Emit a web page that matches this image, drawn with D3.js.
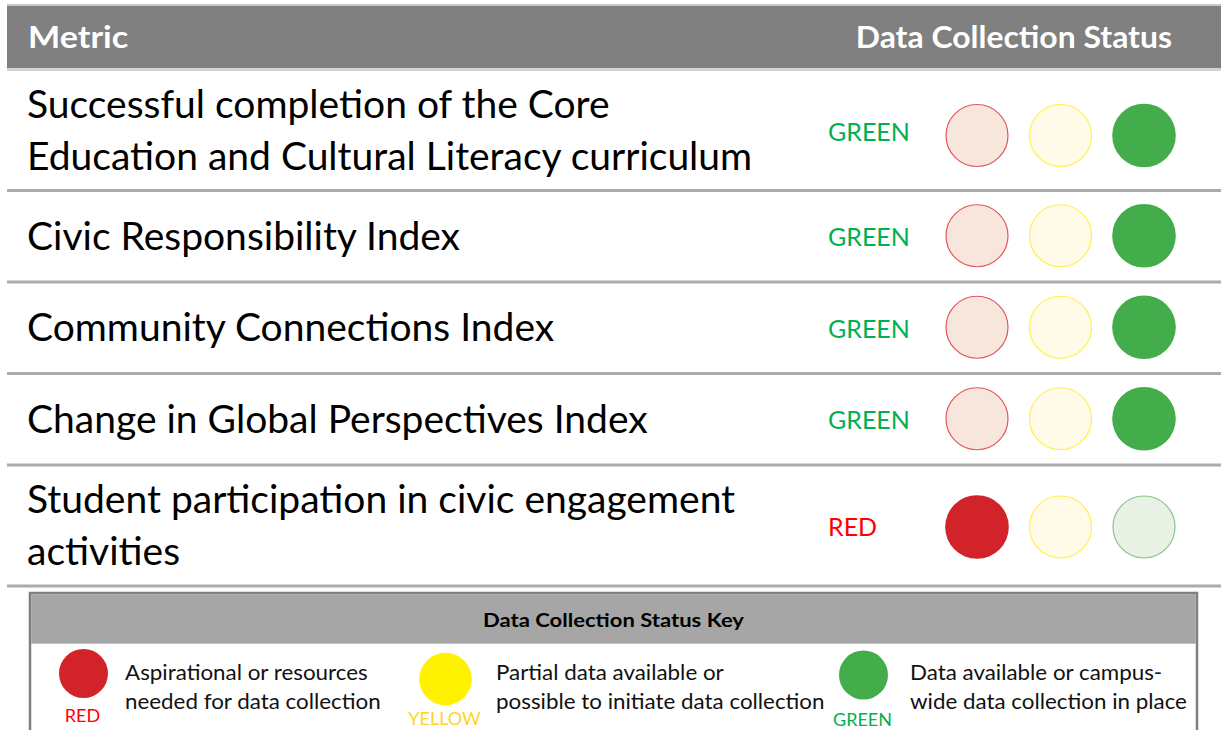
<!DOCTYPE html>
<html><head><meta charset="utf-8">
<script src="https://cdn.jsdelivr.net/npm/d3@7"></script>
<style>html,body{margin:0;padding:0;background:#fff;}svg{display:block;}</style>
</head><body>
<svg id="c" width="1221" height="730"></svg>
<script>
const metrics = [
  ["Successful completion of the Core", "Education and Cultural Literacy curriculum"],
  ["Civic Responsibility Index"],
  ["Community Connections Index"],
  ["Change in Global Perspectives Index"],
  ["Student participation in civic engagement", "activities"]
];
const statuses = ["GREEN", "GREEN", "GREEN", "GREEN", "RED"];
const levels = ["RED", "YELLOW", "GREEN"];
const keyTitle = "Data Collection Status Key";
const keyText = [
  ["Aspirational or resources", "needed for data collection"],
  ["Partial data available or", "possible to initiate data collection"],
  ["Data available or campus-", "wide data collection in place"]
];
const headers = ["Metric", "Data Collection Status"];

const FONT = "Lato, Carlito, Calibri, 'Open Sans', sans-serif";
const solid = {RED: "#d2232a", YELLOW: "#fff200", GREEN: "#43ad4b"};
const paleFill = {RED: "#f8e5dc", YELLOW: "#fffbe8", GREEN: "#e9f1e4"};
const paleStroke = {RED: "#e0575c", YELLOW: "#fff04a", GREEN: "#86c68a"};
const labelColor = {RED: "#ff0000", YELLOW: "#ffd42a", GREEN: "#00b050"};

const svg = d3.select("#c");

function txt(parent, x, y, str, o) {
  const s = o.stretch || 1;
  return parent.append("text")
    .attr("transform", `translate(${x},${y}) scale(${s},1)`)
    .attr("text-anchor", o.anchor || "start")
    .attr("font-family", FONT)
    .attr("font-weight", o.bold ? "bold" : "normal")
    .attr("font-size", o.size)
    .attr("fill", o.fill || "#000")
    .text(str);
}

// header
svg.append("rect").attr("x", 7).attr("y", 4).attr("width", 1214).attr("height", 2).attr("fill", "#c8c8c8");
svg.append("rect").attr("x", 7).attr("y", 6).attr("width", 1214).attr("height", 62).attr("fill", "#808080");
svg.append("rect").attr("x", 7).attr("y", 68).attr("width", 1214).attr("height", 3).attr("fill", "#d4d4d4");
txt(svg, 28, 48, headers[0], {size: 31, bold: true, fill: "#fff", stretch: 1.1});
txt(svg, 1172, 48, headers[1], {size: 31, bold: true, fill: "#fff", stretch: 1.03, anchor: "end"});

// rows: heights from number of lines
const rowH = metrics.map(m => m.length === 2 ? 121 : 91.5);
const rowTop = [];
let acc = 70;
rowH.forEach(h => { rowTop.push(acc); acc += h; });
const xc = d3.scalePoint().domain(levels).range([977, 1144]);
const nudge = [6, 0, 0, 0, 2];

metrics.forEach((lines, i) => {
  const top = rowTop[i], h = rowH[i], mid = top + h / 2;
  const g = svg.append("g");
  g.append("rect").attr("x", 7).attr("y", top + h - 2).attr("width", 1214).attr("height", 3).attr("fill", "#ababab");
  const lh = 52;
  lines.forEach((t, j) => {
    txt(g, 27, mid + 13 + (j - (lines.length - 1) / 2) * lh, t, {size: 39});
  });
  txt(g, 828, mid + 9.5 + (i === 0 ? 1 : 0), statuses[i], {size: 25, fill: labelColor[statuses[i]]});
  g.selectAll("circle").data(levels).join("circle")
    .attr("cx", d => xc(d)).attr("cy", mid - 1 + nudge[i])
    .attr("r", d => d === statuses[i] ? 31.8 : 31)
    .attr("fill", d => d === statuses[i] ? solid[d] : paleFill[d])
    .attr("stroke", d => d === statuses[i] ? "none" : paleStroke[d])
    .attr("stroke-width", 1.2);
});

// key box
const kx = 30, ky = 593, kw = 1167;
svg.append("rect").attr("x", kx).attr("y", ky).attr("width", kw).attr("height", 160)
  .attr("fill", "#fff").attr("stroke", "#7f7f7f").attr("stroke-width", 2.5);
svg.append("rect").attr("x", kx + 1.2).attr("y", ky + 1.2).attr("width", kw - 2.4).attr("height", 49.5).attr("fill", "#a6a6a6");
txt(svg, kx + kw / 2, 627, keyTitle, {size: 19.5, bold: true, anchor: "middle", stretch: 1.13});

const keyCx = {RED: 83.5, YELLOW: 445.5, GREEN: 863.5};
const keyCy = {RED: 673.5, YELLOW: 679, GREEN: 675};
const keyR = {RED: 24.5, YELLOW: 26.3, GREEN: 24.5};
const keyLabelY = {RED: 722, YELLOW: 725, GREEN: 726};
const keyTx = {RED: 125, YELLOW: 496, GREEN: 910};
levels.forEach((lv, k) => {
  svg.append("circle").attr("cx", keyCx[lv]).attr("cy", keyCy[lv]).attr("r", keyR[lv]).attr("fill", solid[lv]);
  txt(svg, keyCx[lv] - 1, keyLabelY[lv], lv, {size: 18, fill: labelColor[lv], anchor: "middle"});
  keyText[k].forEach((t, j) => {
    txt(svg, keyTx[lv], 680 + j * 29, t, {size: 21, fill: "#111", stretch: 1.065});
  });
});
</script>
</body></html>
